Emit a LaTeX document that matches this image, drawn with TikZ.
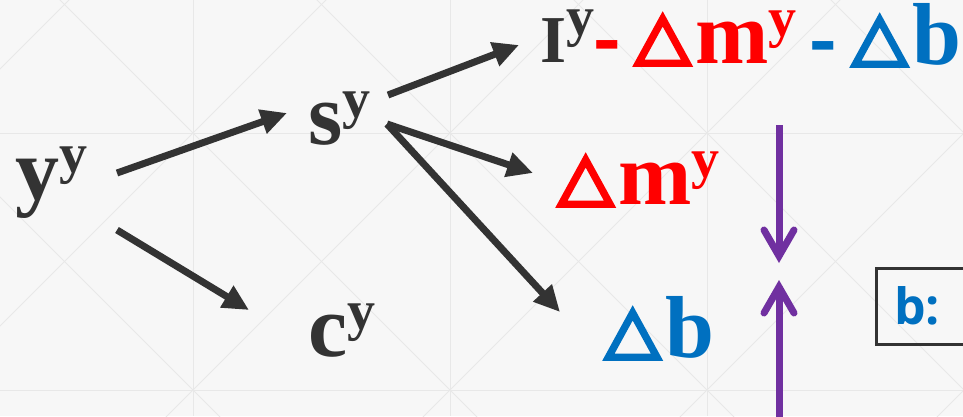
\documentclass[tikz,border=0pt]{standalone}
\usepackage{fontspec}
\usepackage{graphicx}
\usepackage{xcolor}
\usetikzlibrary{positioning, arrows.meta, calc}
\setmainfont{Liberation Serif}
\setsansfont{Liberation Sans}
\newfontfamily\boxfont{Open Sans}
\newfontfamily\trifont[FakeBold=5.5]{DejaVu Sans}
\definecolor{inkdark}{HTML}{333333}
\definecolor{inkred}{HTML}{FF0000}
\definecolor{inkblue}{HTML}{0070C0}
\definecolor{inkpurple}{HTML}{7030A0}
\definecolor{paper}{HTML}{F7F7F7}
\definecolor{gridgray}{HTML}{E8E8E8}
\newcommand{\supy}{\raisebox{27pt}{\fontsize{56}{56}\selectfont y}}
\newcommand{\tri}{\makebox[60pt][l]{\raisebox{6pt}{\trifont\mdseries\fontsize{65}{65}\selectfont\scalebox{1.1}[1]{△}}}}
\newcommand{\tdash}{{\sffamily\fontsize{72}{72}\selectfont\scalebox{1.15}[1]{-}}}
\tikzset{
  term/.style={inner sep=0, anchor=base west, text=inkdark, font=\fontsize{88}{88}\selectfont\bfseries},
  small term/.style={term, font=\fontsize{67}{67}\selectfont\bfseries},
  flow/.style={line width=7pt, inkdark, -{Triangle[length=26pt,width=24pt]}},
  squeeze/.style={line width=7pt, inkpurple, -{Straight Barb[length=26pt,width=30pt,line cap=round]}},
  gridline/.style={gridgray, line width=1pt}
}

\begin{document}
\begin{tikzpicture}[x=1pt,y=-1pt]
    % Frame and background
    \useasboundingbox (0,0) rectangle (963,416);
    \clip (0,0) rectangle (963,416);
    \fill[paper] (0,0) rectangle (963,416);

    % Background grid
    \foreach \x in {193,450,707} \draw[gridline] (\x,0) -- (\x,416);
    \foreach \y in {133,390} \draw[gridline] (0,\y) -- (963,\y);
    \foreach \x in {-64,193,450,707} {
        \foreach \y in {-124,133,390} {
            \draw[gridline] (\x,\y) -- ++(257,257);
            \draw[gridline] (\x,\y+257) -- ++(257,-257);
        }
    }

    % Terms
    \node[term] (yy) at (15,199) {y\supy};
    \node[term] (sy) at (308,144) {s\supy};
    \node[term] (cy) at (308,356) {c\supy};
    \node[term, text=inkred] (dm) at (558,204) {\tri m\supy};
    \node[term, text=inkblue] (db) at (605,357) {\tri b};

    % Top line: I - dm - db
    \node[small term] (iy) at (540,62) {I\supy};
    \node[term, text=inkred] (dashr) at (593,63) {\tdash};
    \node[term, text=inkred] (dmtop) at (635,63) {\tri m\supy};
    \node[term, text=inkblue] (dashb) at (809,64) {\tdash};
    \node[term, text=inkblue] (dbtop) at (852,64) {\tri b};

    % Box on the right
    \node[draw=inkdark, line width=3pt, anchor=west, minimum height=76, text width=110, inner xsep=18, align=left,
          text=inkblue, font=\boxfont\fontsize{50}{50}\selectfont\bfseries] (bx) at (874.5,306) {b:};

    % Flow arrows
    \draw[flow] ([shift={(102,-26)}]yy.base west) -- ([shift={(-21,-31)}]sy.base west);
    \draw[flow] ([shift={(102,31)}]yy.base west) -- ([shift={(-59,-46)}]cy.base west);
    \draw[flow] ([shift={(80,-49)}]sy.base west) -- ([shift={(-21,-17)}]iy.base west);
    \draw[flow] ([shift={(79,-20)}]sy.base west) -- ([shift={(-25,-31)}]dm.base west);
    \draw[flow] ([shift={(79,-20)}]sy.base west) -- ([shift={(-45,-45)}]db.base west);

    % Squeeze arrows
    \coordinate (downtail) at (779,125);
    \coordinate (uptail) at (779,420);
    \coordinate (pinch) at (779,271);
    \draw[squeeze] (downtail) -- ($(pinch)+(0,-8)$);
    \draw[squeeze] (uptail) -- ($(pinch)+(0,9)$);
\end{tikzpicture}
\end{document}
